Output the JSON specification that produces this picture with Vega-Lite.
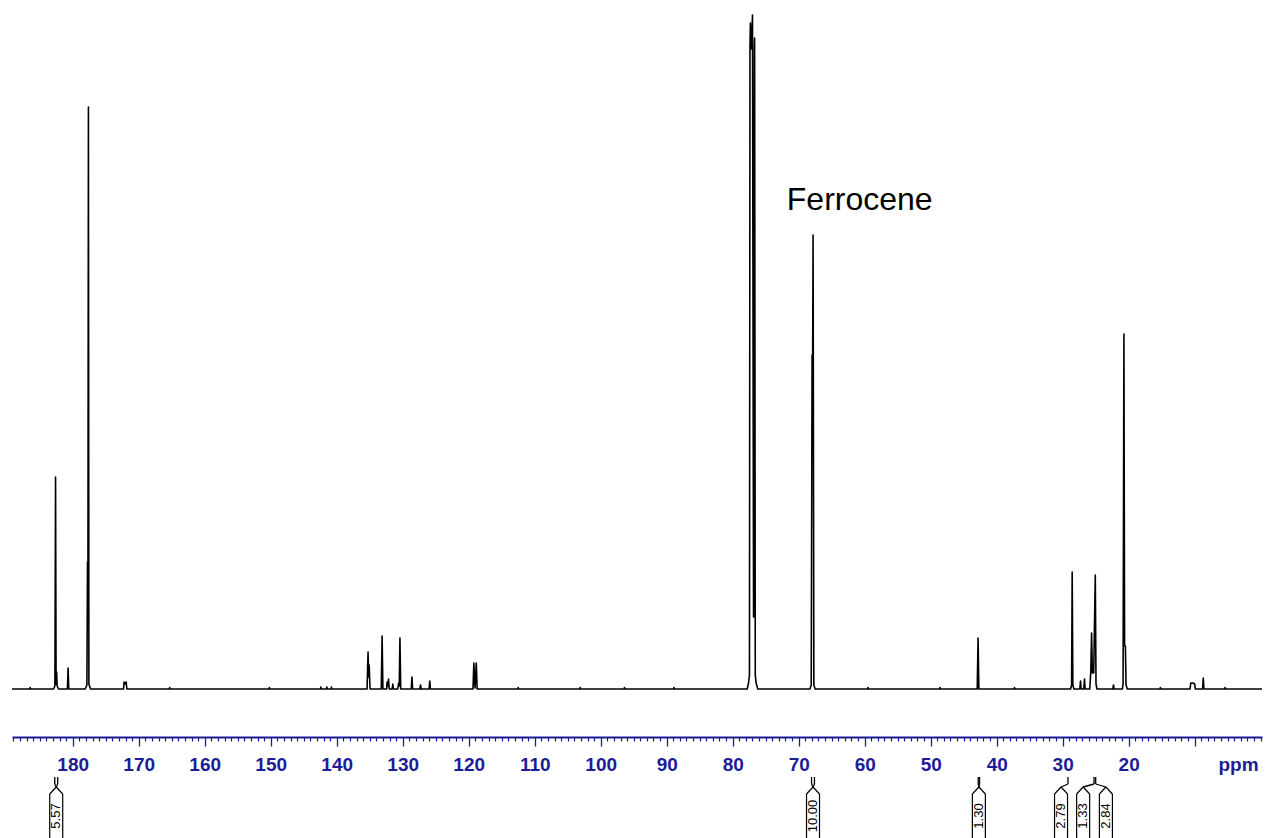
{
  "$schema": "https://vega.github.io/schema/vega-lite/v6.json",
  "width": 1250,
  "height": 838,
  "autosize": {"type": "none"},
  "padding": {"left": 12, "top": 0, "right": 3, "bottom": 0},
  "background": "white",
  "config": {"view": {"stroke": null}},
  "resolve": {"axis": {"x": "independent"}},
  "datasets": {
    "spectrum": [
      {"ppm": 189.2, "i": 0}, {"ppm": 186.5, "i": 0}, {"ppm": 186.45, "i": 1.5}, {"ppm": 186.4, "i": 0},
      {"ppm": 182.9, "i": 0}, {"ppm": 182.7, "i": 3}, {"ppm": 182.6, "i": 212}, {"ppm": 182.52, "i": 5},
      {"ppm": 182.44, "i": 17}, {"ppm": 182.36, "i": 3}, {"ppm": 182.15, "i": 0},
      {"ppm": 180.8, "i": 0}, {"ppm": 180.7, "i": 21}, {"ppm": 180.6, "i": 0},
      {"ppm": 178.1, "i": 0}, {"ppm": 177.85, "i": 4}, {"ppm": 177.76, "i": 127}, {"ppm": 177.7, "i": 70},
      {"ppm": 177.62, "i": 582}, {"ppm": 177.55, "i": 5}, {"ppm": 177.3, "i": 0},
      {"ppm": 172.3, "i": 0}, {"ppm": 172.22, "i": 7}, {"ppm": 172.05, "i": 5}, {"ppm": 171.9, "i": 7}, {"ppm": 171.8, "i": 0},
      {"ppm": 165.35, "i": 0}, {"ppm": 165.3, "i": 1.5}, {"ppm": 165.25, "i": 0},
      {"ppm": 150.25, "i": 0}, {"ppm": 150.2, "i": 1.5}, {"ppm": 150.15, "i": 0},
      {"ppm": 142.45, "i": 0}, {"ppm": 142.4, "i": 2}, {"ppm": 142.35, "i": 0},
      {"ppm": 141.55, "i": 0}, {"ppm": 141.5, "i": 2}, {"ppm": 141.45, "i": 0},
      {"ppm": 140.85, "i": 0}, {"ppm": 140.8, "i": 2}, {"ppm": 140.75, "i": 0},
      {"ppm": 135.4, "i": 0}, {"ppm": 135.25, "i": 37}, {"ppm": 135.16, "i": 12}, {"ppm": 135.08, "i": 24}, {"ppm": 134.95, "i": 0},
      {"ppm": 133.25, "i": 0}, {"ppm": 133.12, "i": 53}, {"ppm": 133.0, "i": 0},
      {"ppm": 132.45, "i": 0}, {"ppm": 132.35, "i": 7}, {"ppm": 132.25, "i": 3}, {"ppm": 132.15, "i": 10}, {"ppm": 132.05, "i": 0},
      {"ppm": 131.6, "i": 0}, {"ppm": 131.5, "i": 5}, {"ppm": 131.4, "i": 0},
      {"ppm": 130.75, "i": 0}, {"ppm": 130.62, "i": 6}, {"ppm": 130.52, "i": 3}, {"ppm": 130.42, "i": 51}, {"ppm": 130.3, "i": 0},
      {"ppm": 128.7, "i": 0}, {"ppm": 128.6, "i": 12}, {"ppm": 128.5, "i": 0},
      {"ppm": 127.4, "i": 0}, {"ppm": 127.3, "i": 4}, {"ppm": 127.2, "i": 0},
      {"ppm": 126.0, "i": 0}, {"ppm": 125.9, "i": 8}, {"ppm": 125.8, "i": 0},
      {"ppm": 119.35, "i": 0}, {"ppm": 119.22, "i": 26}, {"ppm": 119.04, "i": 1}, {"ppm": 118.85, "i": 26}, {"ppm": 118.72, "i": 0},
      {"ppm": 112.55, "i": 0}, {"ppm": 112.5, "i": 1.5}, {"ppm": 112.45, "i": 0},
      {"ppm": 103.15, "i": 0}, {"ppm": 103.1, "i": 1.5}, {"ppm": 103.05, "i": 0},
      {"ppm": 96.45, "i": 0}, {"ppm": 96.4, "i": 1.5}, {"ppm": 96.35, "i": 0},
      {"ppm": 88.95, "i": 0}, {"ppm": 88.9, "i": 1.5}, {"ppm": 88.85, "i": 0},
      {"ppm": 77.8, "i": 0}, {"ppm": 77.6, "i": 6}, {"ppm": 77.46, "i": 14},
      {"ppm": 77.38, "i": 640}, {"ppm": 77.32, "i": 666}, {"ppm": 77.16, "i": 640}, {"ppm": 77.0, "i": 674}, {"ppm": 76.84, "i": 72},
      {"ppm": 76.72, "i": 640}, {"ppm": 76.68, "i": 651}, {"ppm": 76.58, "i": 14}, {"ppm": 76.45, "i": 6}, {"ppm": 76.2, "i": 0},
      {"ppm": 68.3, "i": 0}, {"ppm": 68.1, "i": 4}, {"ppm": 67.97, "i": 334}, {"ppm": 67.9, "i": 300},
      {"ppm": 67.82, "i": 454}, {"ppm": 67.7, "i": 4}, {"ppm": 67.5, "i": 0},
      {"ppm": 59.55, "i": 0}, {"ppm": 59.5, "i": 1.5}, {"ppm": 59.45, "i": 0},
      {"ppm": 48.65, "i": 0}, {"ppm": 48.6, "i": 1.5}, {"ppm": 48.55, "i": 0},
      {"ppm": 42.95, "i": 0}, {"ppm": 42.82, "i": 51}, {"ppm": 42.7, "i": 0},
      {"ppm": 37.35, "i": 0}, {"ppm": 37.3, "i": 1.5}, {"ppm": 37.25, "i": 0},
      {"ppm": 28.8, "i": 0}, {"ppm": 28.65, "i": 4}, {"ppm": 28.56, "i": 117}, {"ppm": 28.46, "i": 4}, {"ppm": 28.3, "i": 0},
      {"ppm": 27.4, "i": 0}, {"ppm": 27.3, "i": 8}, {"ppm": 27.2, "i": 0},
      {"ppm": 26.8, "i": 0}, {"ppm": 26.7, "i": 10}, {"ppm": 26.6, "i": 0},
      {"ppm": 25.9, "i": 0}, {"ppm": 25.75, "i": 16}, {"ppm": 25.62, "i": 56}, {"ppm": 25.5, "i": 16},
      {"ppm": 25.3, "i": 16}, {"ppm": 25.06, "i": 114}, {"ppm": 24.95, "i": 5}, {"ppm": 24.8, "i": 0},
      {"ppm": 22.4, "i": 0}, {"ppm": 22.3, "i": 4}, {"ppm": 22.2, "i": 0},
      {"ppm": 20.95, "i": 0}, {"ppm": 20.85, "i": 5}, {"ppm": 20.72, "i": 355}, {"ppm": 20.62, "i": 43},
      {"ppm": 20.5, "i": 43}, {"ppm": 20.4, "i": 4}, {"ppm": 20.2, "i": 0},
      {"ppm": 15.25, "i": 0}, {"ppm": 15.2, "i": 1.5}, {"ppm": 15.15, "i": 0},
      {"ppm": 10.7, "i": 0}, {"ppm": 10.6, "i": 6}, {"ppm": 10.3, "i": 6}, {"ppm": 10.0, "i": 5}, {"ppm": 9.9, "i": 0},
      {"ppm": 8.8, "i": 0}, {"ppm": 8.7, "i": 11}, {"ppm": 8.6, "i": 0},
      {"ppm": 5.45, "i": 0}, {"ppm": 5.4, "i": 1.5}, {"ppm": 5.35, "i": 0},
      {"ppm": -0.2, "i": 0}
    ],
    "integrals": [
      {"box": 182.5, "label": "5.57"},
      {"box": 67.83, "label": "10.00"},
      {"box": 42.7, "label": "1.30"},
      {"box": 30.25, "label": "2.79"},
      {"box": 26.9, "label": "1.33"},
      {"box": 23.45, "label": "2.84"}
    ],
    "connectors": [
      {"conn": 182.72, "box": 182.5},
      {"conn": 182.28, "box": 182.5},
      {"conn": 68.05, "box": 67.83},
      {"conn": 67.61, "box": 67.83},
      {"conn": 42.8, "box": 42.7},
      {"conn": 42.6, "box": 42.7},
      {"conn": 29.2, "box": 30.25},
      {"conn": 25.25, "box": 26.9},
      {"conn": 25.0, "box": 23.45}
    ],
    "annot": [{"ppm": 71.8, "i": 479, "label": "Ferrocene"}]
  },
  "layer": [
    {
      "data": {"name": "spectrum"},
      "mark": {"type": "line", "color": "black", "strokeWidth": 1.6, "strokeJoin": "round", "clip": true},
      "encoding": {
        "x": {
          "field": "ppm", "type": "quantitative",
          "scale": {"domain": [-0.2, 189.2], "reverse": true, "nice": false, "zero": false},
          "axis": {
            "title": "ppm",
            "orient": "bottom",
            "offset": -101,
            "values": [10, 20, 30, 40, 50, 60, 70, 80, 90, 100, 110, 120, 130, 140, 150, 160, 170, 180],
            "grid": false,
            "domainColor": "#1c1c96",
            "domainWidth": 2,
            "tickColor": "#1c1c96",
            "tickWidth": 1.3,
            "tickSize": 9,
            "labelExpr": "datum.value >= 20 ? datum.label : ''",
            "labelFont": "Liberation Sans",
            "labelFontSize": 19,
            "labelFontWeight": "bold",
            "labelColor": "#1c1c96",
            "labelBaseline": "alphabetic",
            "labelPadding": 24,
            "labelOverlap": false,
            "labelFlush": false,
            "labelBound": false,
            "titleFont": "Liberation Sans",
            "titleFontSize": 19,
            "titleFontWeight": "bold",
            "titleColor": "#1c1c96",
            "titleX": 1226,
            "titleY": 33,
            "titleAlign": "center",
            "titleBaseline": "alphabetic"
          }
        },
        "y": {"field": "i", "type": "quantitative", "scale": {"domain": [-149, 689], "nice": false, "zero": false}, "axis": null}
      }
    },
    {
      "data": {"name": "annot"},
      "mark": {"type": "text", "align": "left", "baseline": "alphabetic", "font": "Liberation Sans", "fontSize": 32, "color": "black"},
      "encoding": {
        "x": {
          "field": "ppm", "type": "quantitative",
          "axis": {
            "title": null,
            "orient": "bottom",
            "offset": -101,
            "values": [0,1,2,3,4,5,6,7,8,9,11,12,13,14,15,16,17,18,19,21,22,23,24,25,26,27,28,29,31,32,33,34,35,36,37,38,39,41,42,43,44,45,46,47,48,49,51,52,53,54,55,56,57,58,59,61,62,63,64,65,66,67,68,69,71,72,73,74,75,76,77,78,79,81,82,83,84,85,86,87,88,89,91,92,93,94,95,96,97,98,99,101,102,103,104,105,106,107,108,109,111,112,113,114,115,116,117,118,119,121,122,123,124,125,126,127,128,129,131,132,133,134,135,136,137,138,139,141,142,143,144,145,146,147,148,149,151,152,153,154,155,156,157,158,159,161,162,163,164,165,166,167,168,169,171,172,173,174,175,176,177,178,179,181,182,183,184,185,186,187,188,189],
            "grid": false,
            "domain": false,
            "labels": false,
            "tickColor": "#1c1c96",
            "tickWidth": 1.2,
            "tickSize": 4
          }
        },
        "y": {"field": "i", "type": "quantitative", "axis": null},
        "text": {"field": "label"}
      }
    },
    {
      "data": {"name": "connectors"},
      "mark": {"type": "rule", "color": "black", "strokeWidth": 1.3},
      "encoding": {
        "x": {"field": "conn", "type": "quantitative", "axis": null},
        "y": {"datum": -88, "type": "quantitative", "axis": null},
        "y2": {"datum": -95}
      }
    },
    {
      "data": {"name": "connectors"},
      "mark": {"type": "rule", "color": "black", "strokeWidth": 1.3},
      "encoding": {
        "x": {"field": "conn", "type": "quantitative", "axis": null},
        "x2": {"field": "box"},
        "y": {"datum": -95, "type": "quantitative", "axis": null},
        "y2": {"datum": -98}
      }
    },
    {
      "data": {"name": "integrals"},
      "mark": {"type": "rule", "color": "black", "strokeWidth": 1.2, "xOffset": -6.5, "clip": true},
      "encoding": {
        "x": {"field": "box", "type": "quantitative", "axis": null},
        "y": {"datum": -105, "type": "quantitative", "axis": null},
        "y2": {"datum": -175}
      }
    },
    {
      "data": {"name": "integrals"},
      "mark": {"type": "rule", "color": "black", "strokeWidth": 1.2, "xOffset": 6.5, "clip": true},
      "encoding": {
        "x": {"field": "box", "type": "quantitative", "axis": null},
        "y": {"datum": -105, "type": "quantitative", "axis": null},
        "y2": {"datum": -175}
      }
    },
    {
      "data": {"name": "integrals"},
      "mark": {"type": "rule", "color": "black", "strokeWidth": 1.2, "xOffset": -6.5},
      "encoding": {
        "x": {"field": "box", "type": "quantitative", "axis": null},
        "x2": {"field": "box"},
        "y": {"datum": -105, "type": "quantitative", "axis": null},
        "y2": {"datum": -98}
      }
    },
    {
      "data": {"name": "integrals"},
      "mark": {"type": "rule", "color": "black", "strokeWidth": 1.2, "xOffset": 6.5},
      "encoding": {
        "x": {"field": "box", "type": "quantitative", "axis": null},
        "x2": {"field": "box"},
        "y": {"datum": -105, "type": "quantitative", "axis": null},
        "y2": {"datum": -98}
      }
    },
    {
      "data": {"name": "integrals"},
      "mark": {"type": "text", "angle": 270, "align": "center", "baseline": "middle", "font": "Liberation Sans", "fontSize": 13, "color": "black"},
      "encoding": {
        "x": {"field": "box", "type": "quantitative", "axis": null},
        "y": {"datum": -127, "type": "quantitative", "axis": null},
        "text": {"field": "label"}
      }
    }
  ]
}
